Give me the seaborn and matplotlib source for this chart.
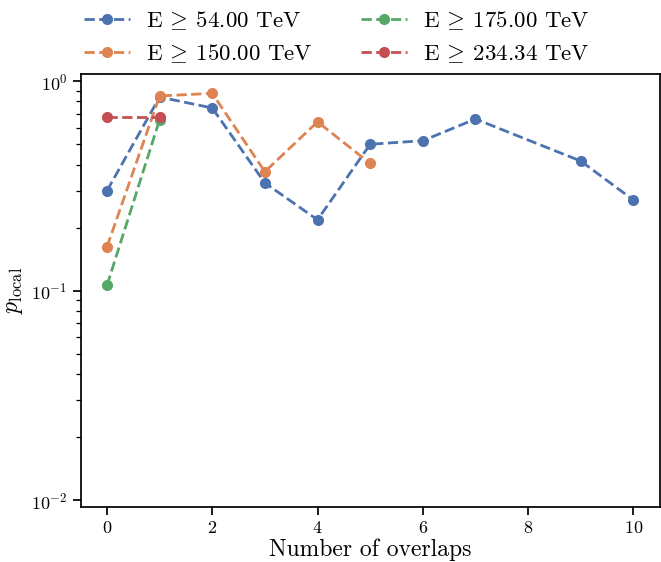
import numpy as np
import pandas as pd
import seaborn as sns
import matplotlib.pyplot as plt
from matplotlib.ticker import LogLocator

# p_local vs number of overlaps, one series per energy threshold
x_54 = [0, 1, 2, 3, 4, 5, 6, 7, 9, 10]
p_54 = [0.30, 0.84, 0.745, 0.327, 0.218, 0.50, 0.52, 0.66, 0.416, 0.271]

x_150 = [0, 1, 2, 3, 4, 5]
p_150 = [0.162, 0.85, 0.875, 0.37, 0.64, 0.405]

x_175 = [0, 1]
p_175 = [0.106, 0.655]

x_234 = [0, 1]
p_234 = [0.672, 0.672]

labels = [r'E $\!\geq\!$ 54.00 TeV', r'E $\!\geq\!$ 150.00 TeV',
          r'E $\!\geq\!$ 175.00 TeV', r'E $\!\geq\!$ 234.34 TeV']

sns.set_theme(style='ticks', palette='deep')
plt.rcParams['font.family'] = 'serif'
plt.rcParams['font.serif'] = ['cmr10']
plt.rcParams['mathtext.fontset'] = 'cm'
plt.rcParams['axes.formatter.use_mathtext'] = True
plt.rcParams['axes.edgecolor'] = 'black'
plt.rcParams['xtick.color'] = 'black'
plt.rcParams['ytick.color'] = 'black'
plt.rcParams['text.color'] = 'black'
plt.rcParams['axes.labelcolor'] = 'black'

fig, ax = plt.subplots(figsize=(6.61, 5.62), dpi=100)
colors = sns.color_palette('deep')

series = [(x_54, p_54), (x_150, p_150), (x_175, p_175), (x_234, p_234)]
for i, (xs, ps) in enumerate(series):
    df = pd.DataFrame({'n': xs, 'p': ps})
    sns.lineplot(data=df, x='n', y='p', ax=ax, color=colors[i], linestyle='--',
                 marker='o', markersize=8, markeredgewidth=0, linewidth=2,
                 label=labels[i], legend=False)

ax.set_yscale('log')
ax.set_ylim(0.0093, 1.08)
ax.yaxis.set_minor_locator(LogLocator(base=10, subs=np.arange(2, 10)))
ax.set_xlim(-0.5, 10.5)
ax.set_xticks([0, 2, 4, 6, 8, 10])
ax.set_xlabel('Number of overlaps', fontsize=17, labelpad=2)
ax.set_ylabel(r'$p_{\rm local}$', fontsize=17)
ax.tick_params(labelsize=13)
ax.tick_params(axis='y', which='minor', length=3.5, width=0.9, left=True)

handles, labs = ax.get_legend_handles_labels()
fig.legend(handles, labs, loc='upper center', bbox_to_anchor=(0.51, 1.02), ncol=2,
           frameon=False, fontsize=16.5, handlelength=2.0, columnspacing=2.1,
           handletextpad=0.7, labelspacing=0.45)

fig.subplots_adjust(left=0.122, right=0.998, top=0.868, bottom=0.098)
fig.savefig('out.png', dpi=100)
